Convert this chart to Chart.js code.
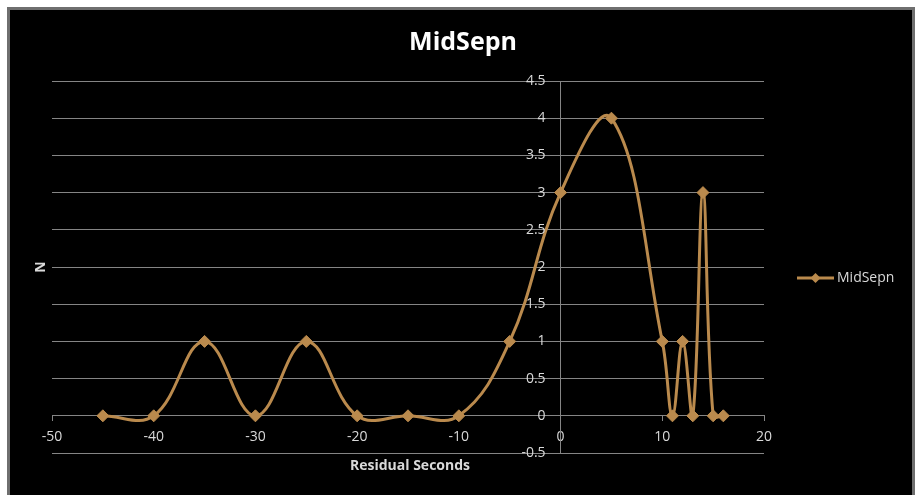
<!DOCTYPE html>
<html>
<head>
<meta charset="utf-8">
<title>MidSepn</title>
<script src="https://cdn.jsdelivr.net/npm/chart.js@4.4.1/dist/chart.umd.min.js"></script>
<style>
  html, body { margin: 0; padding: 0; background: #ffffff; }
  #wrap { width: 922px; height: 495px; }
</style>
</head>
<body>
<div id="wrap"><canvas id="chart" width="922" height="495"></canvas></div>
<script>
// Residual seconds (x) and counts N (y) for the MidSepn series
const residualSeconds = [-45, -40, -35, -30, -25, -20, -15, -10, -5, 0, 5, 10, 11, 12, 13, 14, 15, 16];
const counts          = [  0,   0,   1,   0,   1,   0,   0,   0,  1, 3, 4,  1,  0,  1,  0,  3,  0,  0];

const seriesName = 'MidSepn';
const xTitle = 'Residual Seconds';
const yTitle = 'N';

const xMin = -50, xMax = 20, xStep = 10;
const yMin = -0.5, yMax = 4.5, yStep = 0.5;

const lineColor = '#BA8A4D';
const gridColor = '#858585';
const textColor = '#d9d9d9';
const fontFace = '"Open Sans", "Liberation Sans", sans-serif';

const points = residualSeconds.map((x, i) => ({ x: x, y: counts[i] }));

// plain number text: 4 rather than 4.0
const fmt = v => String(Math.round(v * 10) / 10);

// Dark panel with a grey frame, plus title, axis titles, y labels and legend
const decor = {
  id: 'decor',
  beforeDraw(chart) {
    const ctx = chart.ctx;
    ctx.save();
    ctx.fillStyle = '#ffffff';
    ctx.fillRect(0, 0, chart.width, chart.height);
    ctx.fillStyle = '#000000';
    ctx.fillRect(8, 8, 906, 495);
    ctx.strokeStyle = '#6f6f6f';
    ctx.lineWidth = 3;
    ctx.strokeRect(8.5, 8.5, 905, 495);
    ctx.restore();
  },
  afterDraw(chart) {
    const ctx = chart.ctx;
    const area = chart.chartArea;
    const xs = chart.scales.x;
    const ys = chart.scales.y;
    ctx.save();

    // chart title
    ctx.fillStyle = '#ffffff';
    ctx.font = 'bold 25px ' + fontFace;
    ctx.textAlign = 'center';
    ctx.textBaseline = 'middle';
    ctx.fillText(seriesName, 463, 43);

    // vertical axis labels, set off to the left of the axis line at x = 0
    ctx.fillStyle = textColor;
    ctx.font = '14px ' + fontFace;
    ctx.textAlign = 'right';
    const axisX = xs.getPixelForValue(0);
    ys.ticks.forEach(t => {
      ctx.fillText(fmt(t.value), axisX - 15, ys.getPixelForValue(t.value));
    });

    // horizontal axis title
    ctx.textAlign = 'center';
    ctx.font = 'bold 14px ' + fontFace;
    ctx.fillText(xTitle, (area.left + area.right) / 2 + 2, 466);

    // vertical axis title
    ctx.save();
    ctx.translate(41, (area.top + area.bottom) / 2);
    ctx.rotate(-Math.PI / 2);
    ctx.fillText(yTitle, 0, 0);
    ctx.restore();

    // legend entry
    const ly = 278;
    ctx.strokeStyle = lineColor;
    ctx.lineWidth = 3;
    ctx.beginPath();
    ctx.moveTo(797, ly);
    ctx.lineTo(834, ly);
    ctx.stroke();
    ctx.fillStyle = lineColor;
    ctx.beginPath();
    ctx.moveTo(815.5 - 5, ly);
    ctx.lineTo(815.5, ly - 5);
    ctx.lineTo(815.5 + 5, ly);
    ctx.lineTo(815.5, ly + 5);
    ctx.closePath();
    ctx.fill();
    ctx.fillStyle = textColor;
    ctx.font = '14px ' + fontFace;
    ctx.textAlign = 'left';
    ctx.fillText(seriesName, 837, ly);
    ctx.restore();
  }
};

new Chart(document.getElementById('chart'), {
  type: 'scatter',
  data: {
    datasets: [{
      label: seriesName,
      data: points,
      showLine: true,
      tension: 0.4,
      borderColor: lineColor,
      borderWidth: 3,
      backgroundColor: lineColor,
      pointStyle: 'rectRot',
      pointRadius: 6,
      pointBorderWidth: 1,
      pointBorderColor: lineColor,
      pointBackgroundColor: lineColor
    }]
  },
  options: {
    responsive: false,
    animation: false,
    devicePixelRatio: 1,
    layout: { padding: { left: 52, right: 158, top: 81, bottom: 42 } },
    plugins: {
      legend: { display: false },
      title: { display: false },
      tooltip: { enabled: false }
    },
    scales: {
      x: {
        type: 'linear',
        min: xMin,
        max: xMax,
        position: { y: 0 },
        grid: {
          display: true,
          drawOnChartArea: false,
          drawTicks: true,
          tickLength: 5,
          color: gridColor
        },
        border: { display: true, color: gridColor, width: 1 },
        ticks: {
          stepSize: xStep,
          color: textColor,
          padding: 8,
          font: { family: fontFace, size: 14 },
          maxRotation: 0,
          callback: v => fmt(v)
        }
      },
      y: {
        type: 'linear',
        min: yMin,
        max: yMax,
        position: { x: 0 },
        grid: {
          display: true,
          drawTicks: false,
          color: gridColor
        },
        border: { display: true, color: gridColor, width: 1 },
        ticks: {
          stepSize: yStep,
          display: false
        }
      }
    }
  },
  plugins: [decor]
});
</script>
</body>
</html>
